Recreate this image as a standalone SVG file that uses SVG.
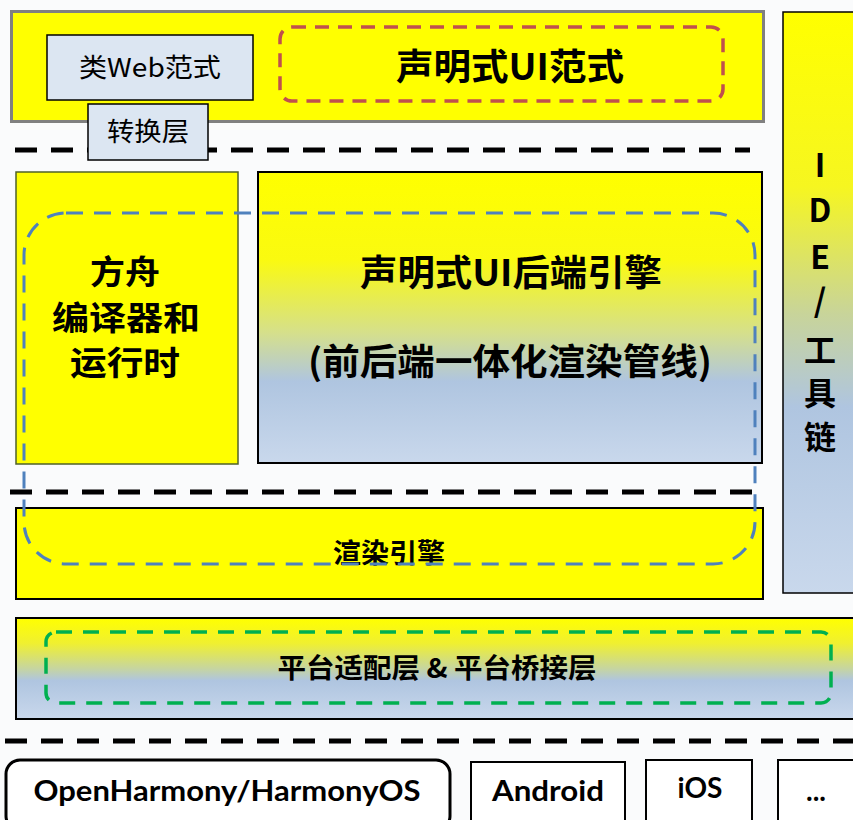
<svg xmlns="http://www.w3.org/2000/svg" width="853" height="820" viewBox="0 0 853 820">
<defs>
<linearGradient id="gBack" x1="0" y1="0" x2="0" y2="1">
<stop offset="0" stop-color="#ffff00"/>
<stop offset="0.3" stop-color="#fafa10"/>
<stop offset="0.55" stop-color="#d6e08a"/>
<stop offset="0.72" stop-color="#afc5e0"/>
<stop offset="1" stop-color="#c9d8ec"/>
</linearGradient>
<linearGradient id="gIde" x1="0" y1="0" x2="0" y2="1">
<stop offset="0" stop-color="#ffff00"/>
<stop offset="0.3" stop-color="#f6f620"/>
<stop offset="0.52" stop-color="#c8d49a"/>
<stop offset="0.68" stop-color="#afc5e0"/>
<stop offset="1" stop-color="#c9d8ec"/>
</linearGradient>
<linearGradient id="gPlat" x1="0" y1="0" x2="0" y2="1">
<stop offset="0" stop-color="#ffff00"/>
<stop offset="0.25" stop-color="#f0f030"/>
<stop offset="0.5" stop-color="#c6d5a0"/>
<stop offset="0.62" stop-color="#afc5e0"/>
<stop offset="1" stop-color="#c9d8ec"/>
</linearGradient>
</defs>
<style>
.cjk{font-family:"Noto Sans CJK SC","Noto Sans",sans-serif;font-weight:700;fill:#000;text-anchor:middle}
.cjkn{font-family:"Noto Sans CJK SC","Noto Sans",sans-serif;font-weight:400;fill:#000;text-anchor:middle}
.lat{font-family:Lato,"Liberation Sans",sans-serif;font-weight:700;fill:#000;text-anchor:middle}
.sep{stroke:#000;stroke-width:5;stroke-dasharray:22 14;fill:none}
.box{stroke:#000;stroke-width:2}
.light{fill:#dce6f2;stroke:#000;stroke-width:1.5}
</style>
<rect width="853" height="820" fill="#fafbfc"/>

<g id="separators">
<line class="sep" x1="15" y1="150" x2="750" y2="150"/>
<line class="sep" x1="10" y1="492" x2="762" y2="492"/>
<line class="sep" x1="5" y1="741" x2="853" y2="741"/>
</g>

<g id="top-paradigm">
<rect x="11.5" y="11.5" width="752" height="110" fill="#ffff00" stroke="#808080" stroke-width="3"/>
<rect x="280" y="27" width="443" height="74" rx="12" fill="none" stroke="#c0504d" stroke-width="3.5" stroke-dasharray="14 9"/>
<text class="cjk" x="510" y="80" font-size="36" textLength="228" lengthAdjust="spacingAndGlyphs">声明式UI范式</text>
</g>

<g id="web-paradigm">
<rect class="light" x="47" y="35" width="206" height="65"/>
<text class="cjkn" x="150" y="77" font-size="26" textLength="142" lengthAdjust="spacingAndGlyphs">类Web范式</text>
</g>

<g id="conversion">
<rect class="light" x="88" y="104" width="120" height="56"/>
<text class="cjkn" x="148" y="141" font-size="26" textLength="82" lengthAdjust="spacingAndGlyphs">转换层</text>
</g>

<g id="ide">
<rect x="783" y="12" width="75" height="581" fill="url(#gIde)" stroke="#000" stroke-width="1.5"/>
<g class="cjk" font-size="32">
<text x="820" y="177">I</text>
<text x="820" y="222">D</text>
<text x="820" y="269">E</text>
<text x="820" y="312">/</text>
<text x="820" y="362">工</text>
<text x="820" y="405">具</text>
<text x="820" y="449">链</text>
</g>
</g>

<g id="ark">
<rect x="16" y="172" width="222" height="292" fill="#ffff00" stroke="#4f6228" stroke-width="1.5"/>
<text class="cjk" x="125" y="284" font-size="33" textLength="70" lengthAdjust="spacingAndGlyphs">方舟</text>
<text class="cjk" x="126" y="330" font-size="33" textLength="148" lengthAdjust="spacingAndGlyphs">编译器和</text>
<text class="cjk" x="125" y="375" font-size="33" textLength="110" lengthAdjust="spacingAndGlyphs">运行时</text>
</g>

<g id="backend">
<rect class="box" x="258" y="172" width="504" height="291" fill="url(#gBack)"/>
<text class="cjk" x="511" y="286" font-size="36" textLength="302" lengthAdjust="spacingAndGlyphs">声明式UI后端引擎</text>
<text class="cjk" x="510" y="375" font-size="36" textLength="404" lengthAdjust="spacingAndGlyphs">(前后端一体化渲染管线)</text>
</g>

<g id="render-engine">
<rect class="box" x="16" y="508" width="747" height="91" fill="#ffff00"/>
<text class="cjk" x="389" y="563" font-size="27" textLength="112" lengthAdjust="spacingAndGlyphs">渲染引擎</text>
</g>

<g id="pipeline-outline">
<rect x="24" y="213" width="731" height="351" rx="42" fill="none" stroke="#4f81bd" stroke-width="3" stroke-dasharray="17 11"/>
</g>

<g id="platform">
<rect class="box" x="16" y="618" width="845" height="101" fill="url(#gPlat)"/>
<rect x="46" y="632" width="785" height="71" rx="10" fill="none" stroke="#00b050" stroke-width="3.5" stroke-dasharray="16 11"/>
<text class="cjk" x="437" y="678" font-size="27" textLength="319" lengthAdjust="spacingAndGlyphs">平台适配层 &amp; 平台桥接层</text>
</g>

<g id="openharmony">
<rect x="6" y="760" width="444" height="70" rx="14" fill="#fff" stroke="#000" stroke-width="3"/>
<text class="lat" x="227" y="801" font-size="28" textLength="387" lengthAdjust="spacingAndGlyphs">OpenHarmony/HarmonyOS</text>
</g>

<g id="android">
<rect x="471" y="762" width="154" height="64" fill="#fff" stroke="#000" stroke-width="2"/>
<text class="lat" x="548" y="801" font-size="28" textLength="112" lengthAdjust="spacingAndGlyphs">Android</text>
</g>

<g id="ios">
<rect x="646" y="760" width="106" height="66" fill="#fff" stroke="#000" stroke-width="2"/>
<text class="lat" x="700" y="798" font-size="28">iOS</text>
</g>

<g id="more">
<rect x="778" y="760" width="80" height="66" fill="#fff" stroke="#000" stroke-width="2"/>
<text class="lat" x="816" y="801" font-size="28">...</text>
</g>
</svg>
